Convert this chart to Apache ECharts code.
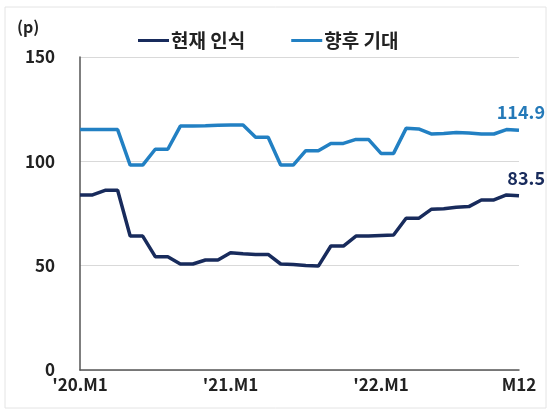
<!DOCTYPE html>
<html>
<head>
<meta charset="utf-8">
<script src="https://cdn.jsdelivr.net/npm/echarts@6/dist/echarts.min.js"></script>
<style>
  html, body { margin: 0; padding: 0; background: #ffffff; }
  #chart { width: 549px; height: 411px; }
</style>
</head>
<body>
<div id="chart"></div>
<script>
// Monthly categories, Jan 2020 through Dec 2022
const months = [];
for (let y = 20; y <= 22; y++) {
  for (let m = 1; m <= 12; m++) months.push("'" + y + ".M" + m);
}
// Tick labels shown under the axis, keyed by category index
const tickLabels = { 0: "'20.M1", 12: "'21.M1", 24: "'22.M1", 35: "M12" };

const seriesNames = ['현재 인식', '향후 기대'];

// 현재 인식 (current perception)
const currentValues = [
  83.9, 83.9, 86.1, 86.1, 64.2, 64.2, 54.3, 54.3, 50.8, 50.8, 52.7, 52.7,
  56.2, 55.7, 55.4, 55.4, 50.8, 50.6, 50.1, 49.8, 59.4, 59.4, 64.2, 64.2,
  64.5, 64.7, 72.7, 72.7, 77.0, 77.3, 78.0, 78.3, 81.5, 81.5, 83.9, 83.5
];
// 향후 기대 (future expectation)
const futureValues = [
  115.3, 115.2, 115.2, 115.2, 98.2, 98.2, 105.8, 105.8, 116.9, 116.9, 117.0, 117.3,
  117.4, 117.4, 111.5, 111.5, 98.2, 98.2, 105.1, 105.1, 108.6, 108.6, 110.5, 110.5,
  103.8, 103.8, 115.8, 115.5, 113.1, 113.3, 113.8, 113.6, 113.1, 113.1, 115.2, 114.9
];

const NAVY = '#182b5c';
const BLUE = '#2280c3';
const FONT = '"Noto Sans CJK KR", "Noto Sans", sans-serif';

const chart = echarts.init(document.getElementById('chart'), null, { renderer: 'canvas' });

chart.setOption({
  animation: false,
  backgroundColor: '#ffffff',
  textStyle: { fontFamily: FONT },
  graphic: [
    {
      type: 'rect', silent: true, z: -1,
      shape: { x: 5, y: 7, width: 541, height: 401 },
      style: { fill: 'none', stroke: '#e4e4e4', lineWidth: 1 }
    },
    {
      type: 'text', left: 17, top: 19,
      style: { text: '(p)', font: 'bold 16px ' + FONT, fill: '#222222' }
    }
  ],
  legend: {
    left: 133, top: 26,
    icon: 'rect',
    itemWidth: 31, itemHeight: 3,
    itemGap: 46,
    textStyle: { fontSize: 19, fontWeight: 'bold', color: '#222222', fontFamily: FONT, padding: [0, 0, 0, -3] },
    data: seriesNames
  },
  grid: { left: 80, right: 30, top: 57, bottom: 41, containLabel: false },
  xAxis: {
    type: 'category',
    data: months,
    boundaryGap: false,
    axisLine: { lineStyle: { color: '#555555', width: 1.5 } },
    axisTick: { show: false },
    axisLabel: {
      interval: (idx) => tickLabels[idx] !== undefined,
      formatter: (val, idx) => tickLabels[idx] || '',
      margin: 6,
      fontSize: 17, fontWeight: 'bold', color: '#222222', fontFamily: FONT
    },
    splitLine: { show: false }
  },
  yAxis: {
    type: 'value',
    min: 0, max: 150, interval: 50,
    axisLine: { show: true, lineStyle: { color: '#555555', width: 1.5 } },
    axisTick: { show: false },
    axisLabel: { margin: 25, fontSize: 17, fontWeight: 'bold', color: '#222222', fontFamily: FONT },
    splitLine: { lineStyle: { color: '#d9d9d9', width: 1 } }
  },
  series: [
    {
      name: seriesNames[0],
      type: 'line',
      data: currentValues,
      showSymbol: false,
      lineStyle: { color: NAVY, width: 3.5 },
      itemStyle: { color: NAVY },
      endLabel: {
        show: true,
        formatter: (p) => Number(p.value).toFixed(1),
        align: 'right',
        offset: [18, -18],
        fontSize: 18, fontWeight: 'bold', color: NAVY, fontFamily: FONT
      }
    },
    {
      name: seriesNames[1],
      type: 'line',
      data: futureValues,
      showSymbol: false,
      lineStyle: { color: BLUE, width: 3.5 },
      itemStyle: { color: BLUE },
      endLabel: {
        show: true,
        formatter: (p) => Number(p.value).toFixed(1),
        align: 'right',
        offset: [18, -18],
        fontSize: 18, fontWeight: 'bold', color: '#2479b8', fontFamily: FONT
      }
    }
  ]
});
</script>
</body>
</html>
